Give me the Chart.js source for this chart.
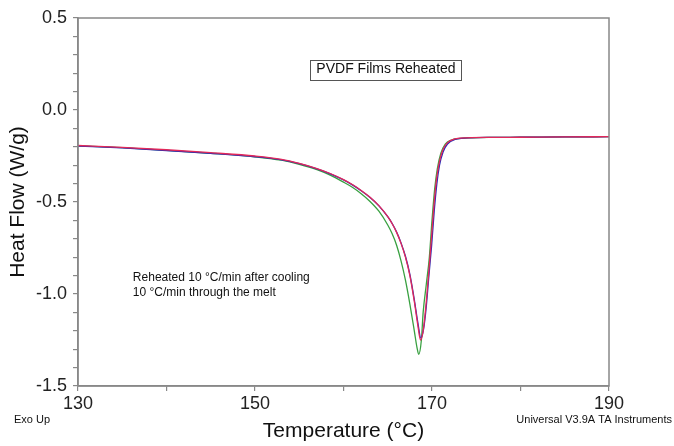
<!DOCTYPE html>
<html>
<head>
<meta charset="utf-8">
<script src="https://cdn.jsdelivr.net/npm/chart.js@4/dist/chart.umd.min.js"></script>
<style>
  html, body { margin: 0; padding: 0; background: #fff; }
  #wrap { width: 674px; height: 446px; }
</style>
</head>
<body>
<div id="wrap"><canvas id="dsc" width="674" height="446"></canvas></div>
<script>
// ===== DSC reheat curves (Temperature °C vs Heat Flow W/g) =====
const tempsRed = [130, 135, 140, 145, 150, 153, 155, 157, 158.5, 160, 161, 162, 163, 164, 165, 165.5, 166, 166.5, 167, 167.5, 168, 168.4, 168.7, 169, 169.3, 169.6, 169.9, 170.2, 170.5, 170.8, 171.2, 171.7, 172.6, 174, 177, 180, 185, 190];
const heatRed = [-0.193, -0.203, -0.216, -0.232, -0.25, -0.268, -0.29, -0.318, -0.345, -0.378, -0.405, -0.437, -0.474, -0.52, -0.58, -0.618, -0.665, -0.725, -0.8, -0.9, -1.04, -1.17, -1.25, -1.2, -1.07, -0.9, -0.72, -0.53, -0.38, -0.29, -0.22, -0.18, -0.157, -0.151, -0.149, -0.148, -0.146, -0.145];

const tempsBlue = [130, 135, 140, 145, 150, 153, 155, 157, 158.5, 160, 161, 162, 163, 164, 165, 165.5, 166, 166.5, 167, 167.5, 168, 168.4, 168.75, 169.05, 169.35, 169.65, 169.95, 170.25, 170.55, 170.85, 171.25, 171.75, 172.6, 174, 177, 180, 185, 190];
const heatBlue = [-0.196, -0.206, -0.22, -0.236, -0.254, -0.271, -0.292, -0.32, -0.347, -0.38, -0.407, -0.439, -0.476, -0.521, -0.58, -0.617, -0.663, -0.722, -0.795, -0.893, -1.03, -1.155, -1.24, -1.19, -1.07, -0.9, -0.74, -0.55, -0.4, -0.3, -0.228, -0.185, -0.16, -0.152, -0.149, -0.148, -0.146, -0.145];

const tempsGreen = [130, 135, 140, 145, 150, 153, 155, 157, 158.5, 160, 161, 162, 163, 164, 165, 165.5, 166, 166.5, 167, 167.5, 168, 168.3, 168.5, 168.8, 169, 169.35, 169.7, 170, 170.3, 170.6, 171, 171.5, 172.2, 173, 174.5, 177, 180, 185, 190];
const heatGreen = [-0.195, -0.205, -0.219, -0.235, -0.254, -0.273, -0.295, -0.324, -0.354, -0.392, -0.42, -0.455, -0.497, -0.55, -0.625, -0.673, -0.735, -0.82, -0.925, -1.055, -1.2, -1.29, -1.328, -1.25, -1.1, -0.95, -0.8, -0.6, -0.43, -0.32, -0.235, -0.185, -0.163, -0.155, -0.151, -0.149, -0.148, -0.146, -0.145];

const xMajor = [130, 150, 170, 190];
const yMajor = [0.5, 0, -0.5, -1, -1.5];

const FONT = "'Liberation Sans', Arial, sans-serif";

function toPoints(xs, ys) {
  return xs.map((x, i) => ({ x, y: ys[i] }));
}

function curve(label, xs, ys, color) {
  return {
    label,
    data: toPoints(xs, ys),
    borderColor: color,
    borderWidth: 1.3,
    pointRadius: 0,
    fill: false,
    cubicInterpolationMode: "monotone"
  };
}

// frame, title box and footer notes
const decorations = {
  id: "decorations",
  afterDraw(chart) {
    const ctx = chart.ctx;
    const a = chart.chartArea;
    const xs = chart.scales.x;
    const ys = chart.scales.y;
    ctx.save();

    ctx.strokeStyle = "#888";
    ctx.lineWidth = 1.5;
    ctx.strokeRect(a.left, a.top, a.right - a.left, a.bottom - a.top);

    // boxed title
    ctx.font = "14px " + FONT;
    ctx.fillStyle = "#111";
    ctx.textAlign = "center";
    ctx.textBaseline = "middle";
    const bx = xs.getPixelForValue(164.8);
    const by = ys.getPixelForValue(0.22);
    const tw = ctx.measureText("PVDF Films Reheated").width;
    ctx.fillText("PVDF Films Reheated", bx, by);
    ctx.strokeStyle = "#555";
    ctx.lineWidth = 1;
    ctx.strokeRect(Math.round(bx - tw / 2 - 6) + 0.5, Math.round(by - 10) + 0.5, Math.round(tw + 12), 20);

    // run conditions
    ctx.font = "12px " + FONT;
    ctx.textAlign = "left";
    const nx = xs.getPixelForValue(136.2);
    ctx.fillText("Reheated 10 °C/min after cooling", nx, ys.getPixelForValue(-0.913));
    ctx.fillText("10 °C/min through the melt", nx, ys.getPixelForValue(-0.995));

    // footer
    ctx.font = "11px " + FONT;
    ctx.fillText("Exo Up", 14, 420);
    ctx.textAlign = "right";
    ctx.fillText("Universal V3.9A TA Instruments", 672, 420);
    ctx.restore();
  }
};

const chart = new Chart(document.getElementById("dsc").getContext("2d"), {
  type: "line",
  data: {
    datasets: [
      curve("Run 1", tempsRed, heatRed, "#e2285a"),
      curve("Run 2", tempsBlue, heatBlue, "#2a2ab4"),
      curve("Run 3", tempsGreen, heatGreen, "#38a040")
    ]
  },
  options: {
    responsive: false,
    animation: false,
    layout: { padding: { top: 18, right: 65, left: 0, bottom: 0 } },
    plugins: { legend: { display: false }, tooltip: { enabled: false } },
    scales: {
      x: {
        type: "linear",
        min: 130,
        max: 190,
        afterFit: s => { s.height = 60; },
        afterBuildTicks: s => { s.ticks = [130, 140, 150, 160, 170, 180, 190].map(v => ({ value: v })); },
        ticks: {
          font: { size: 18, family: FONT },
          color: "#222",
          padding: 2,
          maxRotation: 0,
          autoSkip: false,
          callback: v => xMajor.includes(v) ? String(v) : ""
        },
        grid: { drawOnChartArea: false, drawTicks: true, tickLength: 5, color: "#888", lineWidth: 1.2 },
        border: { display: true, color: "#888", width: 1.5 },
        title: {
          display: true,
          text: "Temperature (°C)",
          font: { size: 21, family: FONT },
          color: "#111",
          padding: { top: 0, bottom: 2 }
        }
      },
      y: {
        type: "linear",
        min: -1.5,
        max: 0.5,
        afterFit: s => { s.width = 78; },
        afterBuildTicks: s => {
          const t = [];
          for (let i = -15; i <= 5; i++) t.push({ value: i / 10 });
          s.ticks = t;
        },
        ticks: {
          font: { size: 18, family: FONT },
          color: "#222",
          padding: 6,
          autoSkip: false,
          callback: v => yMajor.some(m => Math.abs(m - v) < 1e-6) ? v.toFixed(1) : ""
        },
        grid: { drawOnChartArea: false, drawTicks: true, tickLength: 5, color: "#888", lineWidth: 1.2 },
        border: { display: true, color: "#888", width: 1.5 },
        title: {
          display: true,
          text: "Heat Flow (W/g)",
          font: { size: 21, family: FONT },
          color: "#111",
          padding: { top: 6, bottom: 0 }
        }
      }
    }
  },
  plugins: [decorations]
});
</script>
</body>
</html>
